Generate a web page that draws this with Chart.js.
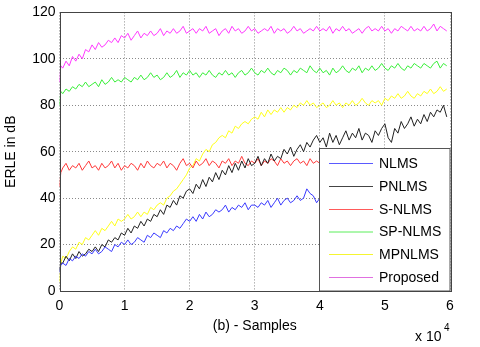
<!DOCTYPE html>
<html>
<head>
<meta charset="utf-8">
<script src="https://cdn.jsdelivr.net/npm/chart.js@4"></script>
<style>
  html, body { margin: 0; padding: 0; background: #fff; }
  #wrap { width: 480px; height: 347px; position: relative; }
</style>
</head>
<body>
<div id="wrap"><canvas id="c" width="480" height="347"></canvas></div>
<script>
// Samples (x 10^4)
const samples = [0,0.02,
  0.05,0.1,0.15,0.2,0.25,0.3,0.35,0.4,0.45,0.5,
  0.55,0.6,0.65,0.7,0.75,0.8,0.85,0.9,0.95,1.0,
  1.05,1.1,1.15,1.2,1.25,1.3,1.35,1.4,1.45,1.5,
  1.55,1.6,1.65,1.7,1.75,1.8,1.85,1.9,1.95,2.0,
  2.05,2.1,2.15,2.2,2.25,2.3,2.35,2.4,2.45,2.5,
  2.55,2.6,2.65,2.7,2.75,2.8,2.85,2.9,2.95,3.0,
  3.05,3.1,3.15,3.2,3.25,3.3,3.35,3.4,3.45,3.5,
  3.55,3.6,3.65,3.7,3.75,3.8,3.85,3.9,3.95,4.0,
  4.05,4.1,4.15,4.2,4.25,4.3,4.35,4.4,4.45,4.5,
  4.55,4.6,4.65,4.7,4.75,4.8,4.85,4.9,4.95,5.0,
  5.05,5.1,5.15,5.2,5.25,5.3,5.35,5.4,5.45,5.5,
  5.55,5.6,5.65,5.7,5.75,5.8,5.85,5.9,5.95];

const nlms = [8,11,
  12,11,14,13,15,14,16,15,17,16,
  18,16,17,19,18,17,20,19,21,20,
  22,20,21,23,22,21,24,23,25,24,
  23,26,25,27,26,28,27,29,31,30,
  32,30,33,31,34,32,33,35,34,35,
  37,34,36,35,37,36,38,35,37,37,
  36,38,37,39,36,38,40,37,39,40,
  38,39,41,39,40,44,42,41,38,40,
  41,39,42,40,41,43,40,42,41,43,
  42,41,43,42,44,41,43,42,44,43,
  42,44,43,45,43,44,46,43,45,44,
  46,44,45,47,45,46,44,47,46];
const pnlms = [9,12,
  12,15,13,16,14,17,15,16,18,17,
  19,17,20,19,22,21,23,22,25,24,
  27,25,28,27,30,28,31,30,33,32,
  35,33,37,36,39,37,41,40,43,44,
  42,46,44,48,45,49,47,51,48,52,
  50,54,51,55,52,56,53,57,54,55,
  58,54,57,55,59,56,58,57,61,59,
  62,58,61,63,60,64,62,65,67,64,
  66,62,68,64,67,63,66,69,65,68,
  66,70,65,68,67,64,69,67,70,72,
  66,64,70,68,73,70,72,75,71,74,
  72,76,73,77,75,78,77,80,75];
const snlms = [45,51,
  53,55,52,54,53,55,52,54,56,53,
  54,52,55,53,54,56,53,55,52,54,
  53,55,54,52,55,53,56,54,53,55,
  54,56,53,55,54,52,55,57,54,55,
  53,56,54,55,57,54,56,55,53,56,
  55,57,54,56,55,58,55,54,56,55,
  57,54,56,55,57,56,54,57,55,56,
  54,56,57,55,56,54,57,55,56,55,
  56,54,57,55,56,58,55,56,54,57,
  55,56,57,55,54,56,58,55,57,56,
  55,57,56,54,57,56,58,55,56,57,
  55,57,56,58,55,57,56,55,57];
const spnlms = [80,86,
  85,87,86,88,87,89,88,90,88,89,
  90,88,91,89,90,92,90,91,90,92,
  91,90,92,91,93,91,92,94,92,93,
  91,92,94,92,93,95,92,94,93,95,
  93,94,92,94,93,95,93,92,94,93,
  95,93,94,92,94,95,93,94,96,94,
  93,95,94,96,94,93,95,94,96,95,
  93,95,94,96,95,94,97,95,94,96,
  94,95,93,96,94,95,97,95,94,96,
  95,97,94,96,95,97,95,96,98,96,
  95,97,96,98,96,95,97,96,98,97,
  96,98,97,96,98,99,96,98,97];
const mpnlms = [4,12,
  15,14,17,19,18,21,20,23,22,24,
  26,24,27,26,28,30,28,31,30,31,
  33,31,32,34,32,34,33,36,35,37,
  38,37,40,41,43,44,46,48,50,53,
  54,57,56,59,61,60,63,64,66,67,
  66,69,68,71,70,72,73,72,74,75,
  74,77,75,78,76,78,77,79,77,79,
  78,80,79,81,80,82,80,81,79,80,
  81,79,80,82,80,81,79,81,80,82,
  80,81,83,81,80,82,81,82,80,83,
  82,84,83,85,83,84,86,84,83,85,
  84,86,85,87,85,86,88,86,87];
const proposed = [90,97,
  96,99,97,101,99,102,100,104,103,106,
  104,107,105,106,108,107,109,107,110,109,
  111,108,110,112,109,111,110,112,110,111,
  113,110,112,111,113,111,112,114,111,112,
  113,111,113,112,114,111,112,113,110,112,
  113,111,114,112,113,111,112,114,112,113,
  111,112,113,112,114,111,113,112,113,111,
  112,114,112,113,111,112,113,112,114,112,
  113,112,114,111,113,112,114,112,113,111,
  112,113,111,113,114,112,113,112,114,112,
  113,111,113,112,114,113,112,114,112,113,
  112,114,112,113,115,112,114,113,112];

const seriesNames = ['NLMS','PNLMS','S-NLMS','SP-NLMS','MPNLMS','Proposed'];
const seriesData = [nlms, pnlms, snlms, spnlms, mpnlms, proposed];
const lineColors = ['#3a3aff','#222222','#ff3a3a','#3aee3a','#ffff1a','#ff3aff'];
const legendColors = ['#5a5aff','#444444','#ff5a5a','#5aee5a','#f5f530','#e070e0'];

const xTicks = [0,1,2,3,4,5,6];
const yTicks = [0,20,40,60,80,100,120];

const FONT = 'Arial, "Liberation Sans", Helvetica, sans-serif';

const datasets = seriesData.map((arr, i) => ({
  label: seriesNames[i],
  data: arr.map((v, k) => ({x: samples[k], y: v})),
  borderColor: lineColors[i],
  backgroundColor: lineColors[i],
  borderWidth: 1,
  pointRadius: 0,
  tension: 0,
  fill: false
}));

const framePlugin = {
  id: 'frame',
  afterDatasetsDraw(chart) {
    const {ctx, chartArea: a} = chart;
    ctx.save();
    ctx.setLineDash([]);
    // legend box
    const lx = 319.5, ly = 148.5, lw = 130.5, lh = a.bottom - 148.5;
    ctx.fillStyle = '#ffffff';
    ctx.fillRect(lx, ly, lw, lh);
    ctx.strokeStyle = '#555';
    ctx.lineWidth = 1;
    ctx.strokeRect(lx, ly, lw, lh);
    ctx.font = '14px ' + FONT;
    ctx.textBaseline = 'middle';
    ctx.textAlign = 'left';
    const rowY = [163, 186, 209, 231.5, 254, 277];
    seriesNames.forEach((n, i) => {
      ctx.strokeStyle = legendColors[i];
      ctx.beginPath();
      ctx.moveTo(329, rowY[i] + 0.5);
      ctx.lineTo(373, rowY[i] + 0.5);
      ctx.stroke();
      ctx.fillStyle = '#000';
      ctx.fillText(n, 379, rowY[i] + 1);
    });
    // axes frame
    ctx.strokeStyle = '#444';
    ctx.strokeRect(Math.round(a.left) + 0.5, Math.round(a.top) + 0.5,
                   Math.round(a.right - a.left), Math.round(a.bottom - a.top));
    // exponent label
    ctx.fillStyle = '#000';
    ctx.textBaseline = 'alphabetic';
    ctx.font = '14px ' + FONT;
    ctx.fillText('x 10', 415, 341);
    ctx.font = '10px ' + FONT;
    ctx.fillText('4', 444, 331);
    ctx.restore();
  }
};

new Chart(document.getElementById('c'), {
  type: 'line',
  data: { datasets },
  options: {
    responsive: false,
    animation: false,
    devicePixelRatio: 1,
    layout: { padding: { top: 10, right: 30, left: 0, bottom: 0 } },
    plugins: { legend: { display: false }, tooltip: { enabled: false } },
    scales: {
      x: {
        type: 'linear', min: 0, max: 6,
        afterFit(s) { s.height = 56; },
        afterBuildTicks(s) { s.ticks = xTicks.map(v => ({value: v})); },
        ticks: { color: '#000', font: { size: 14, family: FONT }, padding: 7, maxRotation: 0 },
        grid: { color: '#8a8a8a', drawTicks: false, lineWidth: 1 },
        border: { display: false, dash: [1, 2] },
        title: { display: true, text: '(b) - Samples', color: '#000',
                 font: { size: 14, family: FONT, lineHeight: 1.2 }, padding: { top: 0, bottom: 12.6 } }
      },
      y: {
        type: 'linear', min: 0, max: 120,
        afterFit(s) { s.width = 59.5; },
        afterBuildTicks(s) { s.ticks = yTicks.map(v => ({value: v})); },
        ticks: { color: '#000', font: { size: 14, family: FONT }, padding: 4 },
        grid: { color: '#8a8a8a', drawTicks: false, lineWidth: 1 },
        border: { display: false, dash: [1, 2] },
        title: { display: true, text: 'ERLE in dB', color: '#000',
                 font: { size: 14, family: FONT, lineHeight: 1.2 }, padding: { top: 3, bottom: 0 } }
      }
    }
  },
  plugins: [framePlugin]
});
</script>
</body>
</html>
